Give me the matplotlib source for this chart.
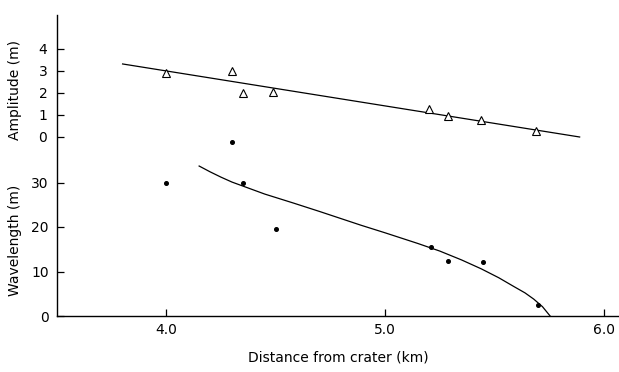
import matplotlib
matplotlib.use("Agg")
from matplotlib import pyplot as plt

# amplitude measurements (triangles)
amp_dist = [4.00, 4.30, 4.35, 4.49, 5.20, 5.29, 5.44, 5.69]
amp_vals = [2.9, 3.0, 2.0, 2.05, 1.25, 0.95, 0.75, 0.25]
# fitted straight line for amplitude
amp_fit_dist = [3.80, 5.89]
amp_fit_vals = [3.32, 0.0]

# wavelength measurements (dots)
wl_dist = [4.00, 4.30, 4.35, 4.50, 5.21, 5.29, 5.45, 5.70]
wl_vals = [30.0, 39.0, 30.0, 19.5, 15.5, 12.4, 12.2, 2.5]
# hand drawn curve for wavelength
wl_curve_dist = [4.15, 4.20, 4.25, 4.30, 4.35, 4.45, 4.58, 4.70, 4.89, 5.00, 5.15,
                 5.25, 5.35, 5.44, 5.52, 5.59, 5.64, 5.68, 5.72, 5.755]
wl_curve_vals = [33.7, 32.4, 31.2, 30.1, 29.2, 27.4, 25.4, 23.5, 20.4, 18.7, 16.3,
                 14.6, 12.6, 10.6, 8.6, 6.6, 5.2, 3.8, 2.1, 0.0]

amp_ticks = [0, 1, 2, 3, 4]
wl_ticks = [0, 10, 20, 30]
x_ticks = [4.0, 5.0, 6.0]

W, H = 619, 372
fig = plt.figure(figsize=(W / 100, H / 100), dpi=100)
rect = [57 / W, (H - 316) / H, (W - 57) / W, (316 - 15) / H]

# wavelength axes owns the spines
ax = fig.add_axes(rect)
# amplitude axes sits on top, same box, no spines
ax2 = fig.add_axes(rect, sharex=ax)
ax2.patch.set_visible(False)

for s in ["top", "right"]:
    ax.spines[s].set_visible(False)
for s in ax2.spines.values():
    s.set_visible(False)
ax.spines["left"].set_linewidth(1.0)
ax.spines["bottom"].set_linewidth(1.0)

ax.set_xlim(3.5, 6.07)
ax.set_ylim(0, 301 / 4.45)
ax2.set_ylim(-179 / 22, 4 + 34 / 22)

ax.plot(wl_curve_dist, wl_curve_vals, color="black", lw=0.9, clip_on=False)
ax.plot(wl_dist, wl_vals, "o", color="black", ms=2.6, clip_on=False)

ax2.plot(amp_fit_dist, amp_fit_vals, color="black", lw=0.9)
ax2.plot(amp_dist, amp_vals, "^", mfc="white", mec="black", mew=0.8, ms=5.5)

ax.set_xticks(x_ticks)
ax.set_xticklabels(["4.0", "5.0", "6.0"])
ax.set_yticks(wl_ticks)
ax2.set_yticks(amp_ticks)
ax2.tick_params(axis="x", bottom=False, labelbottom=False)

ax.tick_params(direction="in", length=5, width=0.9, labelsize=10, pad=6)
ax.tick_params(axis="x", pad=5)
ax2.tick_params(axis="y", direction="in", length=5, width=0.9, labelsize=10, pad=7)

ax.set_xlabel("Distance from crater (km)", fontsize=10, labelpad=10)
ax.set_ylabel("Wavelength (m)", fontsize=10)
ax2.set_ylabel("Amplitude (m)", fontsize=10)
ax.yaxis.set_label_coords(-0.062, 0.25)
ax2.yaxis.set_label_coords(-0.062, 0.75)

fig.savefig("out.png", dpi=100)
